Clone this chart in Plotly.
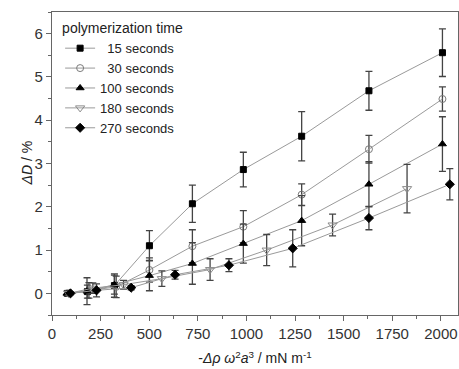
import plotly.graph_objects as go

names = ["\u00a0\u00a015 seconds", "\u00a0\u00a030 seconds", "100 seconds", "180 seconds", "270 seconds"]

x15 = [80, 182, 321, 501, 722, 984, 1284, 1630, 2008]
y15 = [0.0, 0.04, 0.18, 1.10, 2.07, 2.86, 3.63, 4.68, 5.56]
e15 = [0.05, 0.15, 0.27, 0.35, 0.43, 0.40, 0.57, 0.45, 0.55]

x30 = [86, 190, 330, 501, 722, 984, 1284, 1630, 2008]
y30 = [0.0, 0.07, 0.15, 0.54, 1.09, 1.54, 2.28, 3.33, 4.49]
e30 = [0.05, 0.18, 0.25, 0.28, 0.38, 0.37, 0.25, 0.32, 0.28]

x100 = [77, 180, 321, 501, 722, 984, 1284, 1630, 2008]
y100 = [0.0, 0.05, 0.20, 0.41, 0.69, 1.15, 1.68, 2.52, 3.45]
e100 = [0.05, 0.31, 0.22, 0.35, 0.48, 0.45, 0.58, 0.52, 0.63]

x180 = [85, 210, 368, 565, 813, 1104, 1443, 1826]
y180 = [0.0, 0.12, 0.20, 0.34, 0.55, 1.00, 1.58, 2.42]
e180 = [0.05, 0.12, 0.10, 0.18, 0.25, 0.36, 0.25, 0.56]

x270 = [95, 229, 407, 633, 910, 1238, 1630, 2046]
y270 = [0.0, 0.07, 0.13, 0.43, 0.65, 1.04, 1.74, 2.52]
e270 = [0.03, 0.15, 0.05, 0.10, 0.15, 0.43, 0.27, 0.36]

series = [
    (x15, y15, e15, "square", "black", 6),
    (x30, y30, e30, "circle-open", "#7a7a7a", 7),
    (x100, y100, e100, "triangle-up", "black", 7),
    (x180, y180, e180, "triangle-down-open", "#8a8a8a", 8),
    (x270, y270, e270, "diamond", "black", 7),
]

fig = go.Figure()
for name, (xs, ys, es, sym, mcol, sz) in zip(names, series):
    fig.add_trace(go.Scatter(
        x=xs, y=ys, name=name, mode="lines+markers",
        line=dict(color="#9a9a9a", width=1),
        marker=dict(symbol=sym, size=sz, color=mcol, line=dict(color=mcol, width=1)),
        error_y=dict(type="data", array=es, visible=True, color="#444444", thickness=1.3, width=3.5),
    ))

fig.update_layout(
    width=459, height=369,
    margin=dict(l=52, r=1, t=12, b=54),
    paper_bgcolor="white", plot_bgcolor="white",
    font=dict(family="Liberation Sans, Arial, sans-serif", size=14, color="#222222"),
    showlegend=True,
    legend=dict(
        title=dict(text="polymerization time", font=dict(size=14, color="#222222")),
        x=0.02, y=0.99, xanchor="left", yanchor="top",
        bgcolor="rgba(0,0,0,0)", font=dict(size=13, color="#222222"),
        tracegroupgap=0, itemwidth=30,
    ),
    annotations=[dict(
        text="<i>ΔD</i> / %", textangle=-90, xref="paper", yref="paper",
        x=-0.064, y=0.5, xanchor="center", yanchor="middle", showarrow=False,
        font=dict(size=14, color="#222222"),
    )],
)
fig.update_xaxes(
    range=[0, 2088], tickvals=[0, 250, 500, 750, 1000, 1250, 1500, 1750, 2000],
    showgrid=False, zeroline=False, showline=True, linecolor="#666666", linewidth=1.2, mirror=True,
    ticks="outside", ticklen=5, tickcolor="#666666", tickfont=dict(size=15, color="#333333"),
    minor=dict(ticks="outside", ticklen=3, dtick=125, tickcolor="#666666"),
    automargin=True,
    title=dict(text="-<i>Δρ ω</i><sup>2</sup><i>a</i><sup>3</sup> / mN m<sup>-1</sup>", font=dict(size=14, color="#222222"), standoff=12),
)
fig.update_yaxes(
    range=[-0.5, 6.5], tickvals=[0, 1, 2, 3, 4, 5, 6],
    showgrid=False, zeroline=False, showline=True, linecolor="#666666", linewidth=1.2, mirror=True,
    ticks="outside", ticklen=5, tickcolor="#666666", tickfont=dict(size=15, color="#333333"),
    minor=dict(ticks="outside", ticklen=3, dtick=0.5, tickcolor="#666666"),
)

fig.write_html("out.html")
